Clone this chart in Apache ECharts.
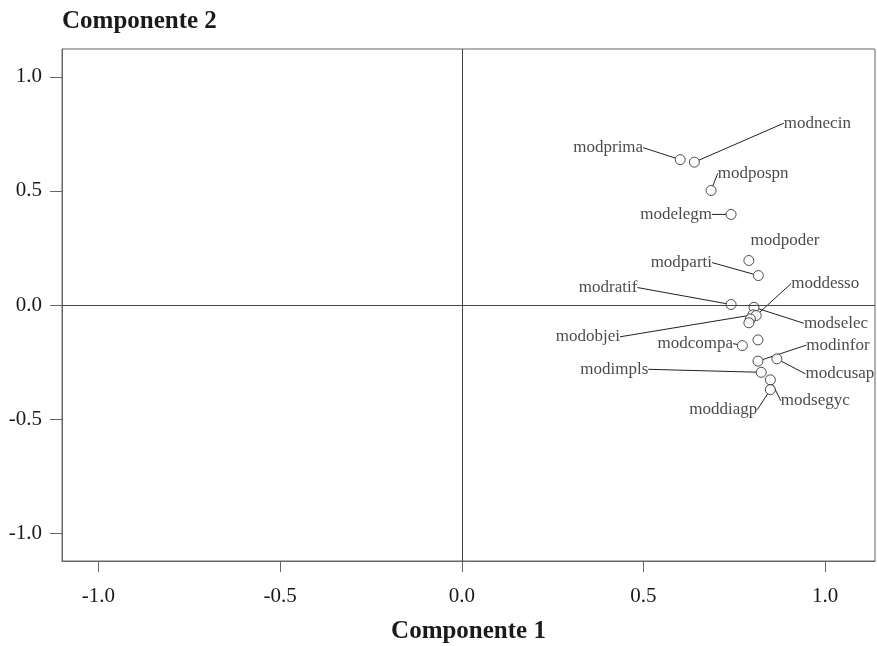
<!DOCTYPE html>
<html>
<head>
<meta charset="utf-8">
<script src="https://cdn.jsdelivr.net/npm/echarts@6/dist/echarts.min.js"></script>
<style>
html,body{margin:0;padding:0;background:#fff}
#chart{width:877px;height:646px}
</style>
</head>
<body>
<div id="chart"></div>
<script>
// component loadings
var pointNames = ['modprima','modnecin','modpospn','modelegm','modpoder','modparti','modratif',
	'modselec','modobjei','moddesso','','','','modcompa','modinfor','modcusap','modimpls','modsegyc','moddiagp'];
var comp1 = [0.601,0.640,0.686,0.741,0.790,0.816,0.741,
	0.804,0.801,0.810,0.794,0.790,0.815,0.772,0.815,0.867,0.824,0.849,0.849];
var comp2 = [0.637,0.626,0.502,0.397,0.195,0.129,0.002,
	-0.010,-0.043,-0.046,-0.061,-0.078,-0.153,-0.178,-0.246,-0.236,-0.295,-0.328,-0.371];
var tickValues = [-1,-0.5,0,0.5,1];

// where each label sits relative to its point (px)
var labelOffsets = {
	modprima:[-72,-12], modnecin:[123,-39], modpospn:[42,-17], modelegm:[-55,0],
	modpoder:[36,-20], modparti:[-77,-13], modratif:[-123,-17], modselec:[82,16],
	modobjei:[-165,22], moddesso:[69,-32], modcompa:[-47,-2], modinfor:[80,-16],
	modcusap:[63,15], modimpls:[-147,-3], modsegyc:[45,21], moddiagp:[-47,20]
};
var noLine = ['modpoder'];

var font = 'Liberation Serif';
var chart = echarts.init(document.getElementById('chart'));

var points = [];
for (var i = 0; i < comp1.length; i++) {
	var item = {name: pointNames[i], value: [comp1[i], comp2[i]]};
	if (!pointNames[i]) {
		item.label = {show: false};
		item.labelLine = {show: false};
	} else if (noLine.indexOf(pointNames[i]) >= 0) {
		item.labelLine = {show: false};
	}
	points.push(item);
}

var option = {
	animation: false,
	backgroundColor: '#fff',
	textStyle: {fontFamily: font},
	grid: {
		left: 62, right: 2, top: 49, bottom: 85,
		outerBoundsMode: 'none',
		show: true, borderColor: '#666', borderWidth: 1
	},
	xAxis: {
		type: 'value',
		min: -1.1, max: 1.137,
		name: 'Componente 1',
		nameLocation: 'middle',
		nameGap: 71,
		nameTextStyle: {fontFamily: font, fontSize: 25, fontWeight: 'bold', color: '#1a1a1a', verticalAlign: 'middle'},
		axisLine: {show: true, onZero: false, lineStyle: {color: '#666', width: 1}},
		axisTick: {show: true, length: 11, lineStyle: {color: '#666'}, customValues: tickValues},
		axisLabel: {
			margin: 25, fontFamily: font, fontSize: 21, color: '#1a1a1a',
			customValues: tickValues,
			formatter: function (v) { return v.toFixed(1); }
		},
		splitLine: {show: false}
	},
	yAxis: {
		type: 'value',
		min: -1.122, max: 1.122,
		name: 'Componente 2',
		nameLocation: 'end',
		nameGap: 27,
		nameTextStyle: {fontFamily: font, fontSize: 25, fontWeight: 'bold', color: '#1a1a1a', align: 'left', verticalAlign: 'middle'},
		axisLine: {show: true, onZero: false, lineStyle: {color: '#666', width: 1}},
		axisTick: {show: true, length: 12, lineStyle: {color: '#666'}, customValues: tickValues},
		axisLabel: {
			margin: 20, fontFamily: font, fontSize: 21, color: '#1a1a1a',
			customValues: tickValues,
			formatter: function (v) { return v.toFixed(1); }
		},
		splitLine: {show: false}
	},
	series: [{
		type: 'scatter',
		symbol: 'circle',
		symbolSize: 10,
		itemStyle: {color: '#fff', borderColor: '#222', borderWidth: 1},
		label: {
			show: true,
			formatter: '{b}',
			fontFamily: font, fontSize: 17, color: '#1a1a1a',
			align: 'center', verticalAlign: 'middle'
		},
		labelLine: {show: true, lineStyle: {color: '#222', width: 1}},
		labelLayout: function (params) {
			var name = pointNames[params.dataIndex];
			var off = labelOffsets[name] || [0, 0];
			var r = params.rect;
			return {
				x: r.x + r.width / 2 + off[0],
				y: r.y + r.height / 2 + off[1],
				align: 'center',
				verticalAlign: 'middle'
			};
		},
		markLine: {
			silent: true,
			symbol: ['none', 'none'],
			label: {show: false},
			lineStyle: {color: '#444', type: 'solid', width: 1},
			data: [{xAxis: 0}, {yAxis: 0}]
		},
		data: points
	}]
};
chart.setOption(option);
</script>
</body>
</html>
